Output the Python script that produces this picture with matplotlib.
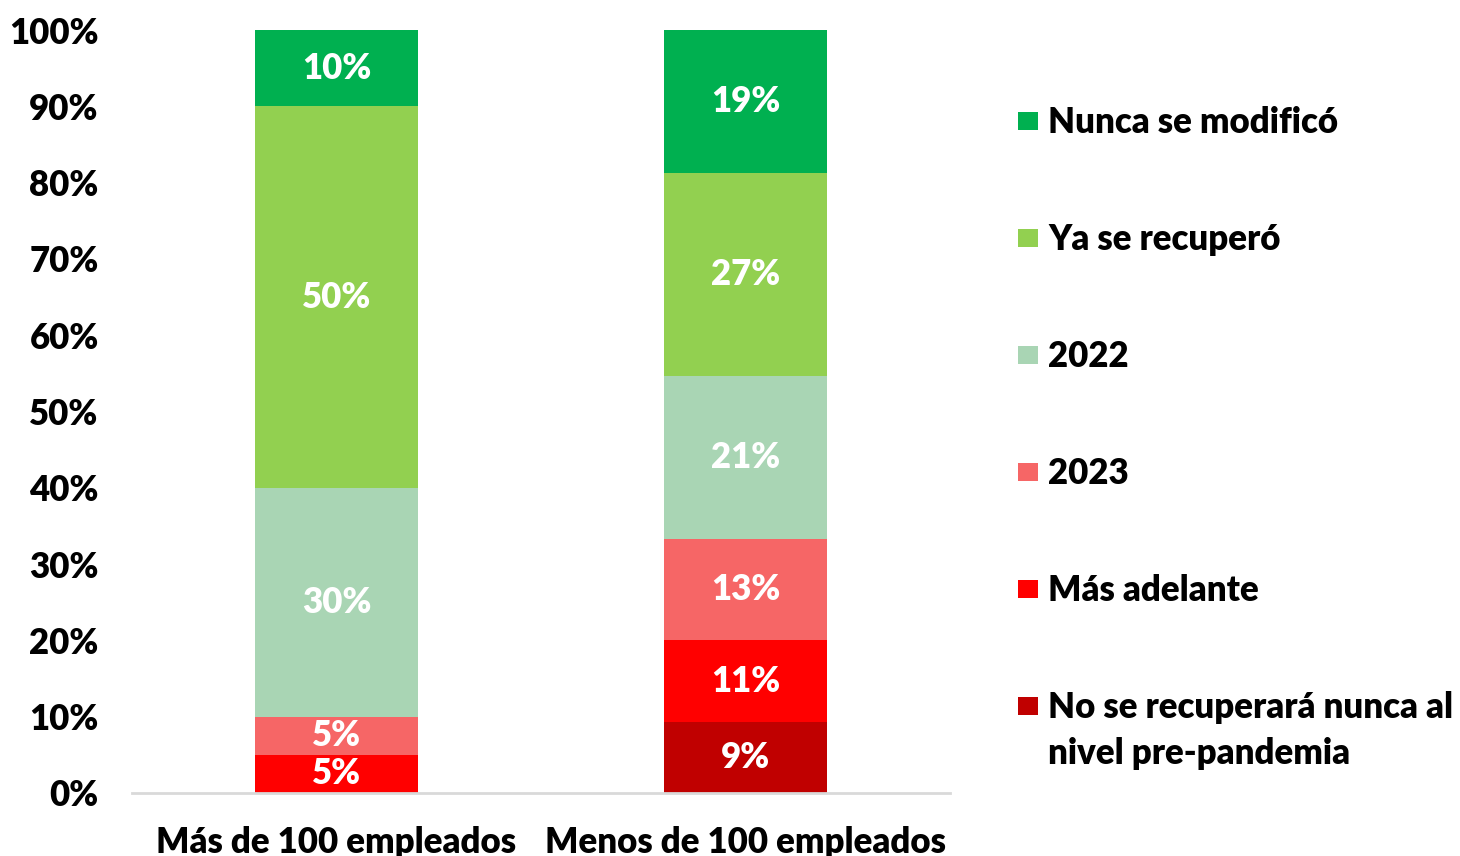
import numpy as np
import matplotlib
matplotlib.use("Agg")
import matplotlib.pyplot as plt
from matplotlib.patches import Rectangle

plt.rcParams["font.family"] = ["Lato", "DejaVu Sans"]
plt.rcParams["font.weight"] = "bold"

# --- data ---
categories = ["Más de 100 empleados", "Menos de 100 empleados"]
series_names = [
    "No se recuperará nunca al\nnivel pre-pandemia",
    "Más adelante",
    "2023",
    "2022",
    "Ya se recuperó",
    "Nunca se modificó",
]
no_se_recuperara = [0.0, 9.3]
mas_adelante = [5.0, 10.7]
anio_2023 = [5.0, 13.3]
anio_2022 = [30.0, 21.3]
ya_recupero = [50.0, 26.7]
nunca_modifico = [10.0, 18.7]
series_values = [no_se_recuperara, mas_adelante, anio_2023, anio_2022, ya_recupero, nunca_modifico]
colors = ["#C00000", "#FF0000", "#F66666", "#A9D5B4", "#92D050", "#00B050"]

FS = 25
W, H = 1460, 856

fig = plt.figure(figsize=(14.6, 8.56), dpi=100)
ax = fig.add_axes([132 / W, 1 - 793 / H, 818 / W, 763 / H])

x = np.arange(len(categories))
bottom = np.zeros(len(categories))
for name, vals, col in zip(series_names, series_values, colors):
    vals = np.array(vals)
    ax.bar(x, vals, width=0.4, bottom=bottom, color=col, label=name, zorder=2)
    for xi, v, b in zip(x, vals, bottom):
        if v > 0:
            ax.text(xi, b + v / 2, f"{v:.0f}%", ha="center", va="center",
                    color="white", fontsize=FS, fontweight="heavy", zorder=3)
    bottom += vals

ax.set_xlim(-0.5, 1.5)
ax.set_ylim(0, 100)
ax.set_yticks(np.arange(0, 101, 10))
ax.set_yticklabels([f"{t}%" for t in range(0, 101, 10)], fontsize=FS, fontweight="heavy")
ax.set_xticks(x)
ax.set_xticklabels(categories, fontsize=FS, fontweight="heavy")
ax.tick_params(axis="both", length=0)
ax.tick_params(axis="y", pad=24)
ax.tick_params(axis="x", pad=24)
for s in ["top", "right", "left"]:
    ax.spines[s].set_visible(False)
ax.spines["bottom"].set_color("#D9D9D9")
ax.spines["bottom"].set_linewidth(2)

# legend, drawn by hand so the square sits on the first line of a two-line label
for i, (name, col) in enumerate(zip(series_names[::-1], colors[::-1])):
    yc = 121 + 117 * i
    fig.patches.append(Rectangle((1018 / W, 1 - (yc + 9) / H), 20 / W, 18 / H,
                                 transform=fig.transFigure, facecolor=col, edgecolor="none"))
    for j, line in enumerate(name.split("\n")):
        fig.text(1048 / W, 1 - (yc + 12 + 46 * j) / H, line, ha="left", va="baseline",
                 fontsize=FS, fontweight="heavy")

fig.savefig("out.png", dpi=100)
